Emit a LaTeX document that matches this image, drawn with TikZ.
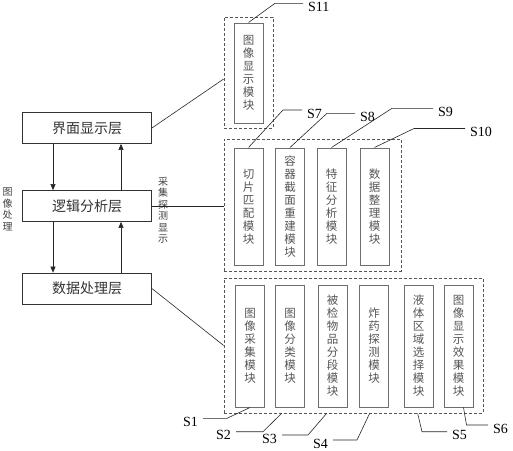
\documentclass[tikz,border=0pt]{standalone}
\usepackage{fontspec}
\setmainfont{Liberation Serif}
\newfontfamily\cjk{Noto Sans CJK SC}
\usetikzlibrary{arrows.meta}
\definecolor{lyrLine}{HTML}{333333}
\definecolor{modLine}{HTML}{6E6E6E}
\definecolor{modText}{HTML}{555555}
\definecolor{grpLine}{HTML}{555555}

\begin{document}
\begin{tikzpicture}[x=1pt, y=-1pt, font=\cjk,
  lyrbox/.style={rectangle, draw=lyrLine, line width=0.8pt, minimum width=129, minimum height=31,
    inner sep=0pt, text=black!80, font=\cjk\fontsize{14}{16}\selectfont},
  grpbox/.style={rectangle, draw=grpLine, line width=0.7pt, dash pattern=on 3pt off 2pt, inner sep=0pt},
  modbox/.style={rectangle, draw=modLine, line width=1pt, minimum width=29, inner sep=0pt,
    align=center, text=modText, font=\cjk\fontsize{11.5}{13}\selectfont},
  vtext/.style={align=center, inner sep=0pt, text=black!75, font=\cjk\fontsize{10}{11.5}\selectfont},
  slab/.style={inner xsep=5pt, inner ysep=0pt, font=\fontsize{14}{16}\selectfont},
  lead/.style={line width=0.6pt, color=black!85},
  lyrarr/.style={-{Triangle[length=6pt,width=5pt]}, line width=0.6pt, color=black!85}]
  \useasboundingbox (0,0) rectangle (513,450);
  \node[lyrbox] (ui) at (87,128) {界面显示层};
  \node[lyrbox] (logic) at (87,206) {逻辑分析层};
  \node[lyrbox] (data) at (87,288.5) {数据处理层};
  \draw[lyrarr] ([xshift=-34pt]ui.south) -- ([xshift=-34pt]logic.north);
  \draw[lyrarr] ([xshift=34pt]logic.north) -- ([xshift=34pt]ui.south);
  \draw[lyrarr] ([xshift=-34pt]logic.south) -- ([xshift=-34pt]data.north);
  \draw[lyrarr] ([xshift=34pt]data.north) -- ([xshift=34pt]logic.south);
  \node[vtext] (imgproc) at (7.5,209) {图\\像\\处\\理};
  \node[vtext] (acqdet) at (163,210) {采\\集\\探\\测\\显\\示};
  \node[grpbox, minimum width=49, minimum height=111] (g1) at (248.5,72.5) {};
  \node[grpbox, minimum width=177, minimum height=132] (g2) at (312.5,205) {};
  \node[grpbox, minimum width=259, minimum height=135] (g3) at (353.5,345.5) {};
  \draw[lead] (ui.east) -- ([yshift=-6.5pt]g1.west);
  \draw[lead] (logic.east) -- (logic.east -| g2.west);
  \draw[lead] (data.east) -- (g3.west);
  \node[modbox, minimum height=100] (m11) at (248.5,73) {图\\像\\显\\示\\模\\块};
  \node[modbox, minimum height=117] (m7) at (248.5,206.5) {切\\片\\匹\\配\\模\\块};
  \node[modbox, minimum height=117] (m8) at (290,206.5) {容\\器\\截\\面\\重\\建\\模\\块};
  \node[modbox, minimum height=117] (m9) at (331.5,206.5) {特\\征\\分\\析\\模\\块};
  \node[modbox, minimum height=117] (m10) at (374.5,206.5) {数\\据\\整\\理\\模\\块};
  \node[modbox, minimum height=122] (m1) at (250,346) {图\\像\\采\\集\\模\\块};
  \node[modbox, minimum height=122] (m2) at (290,346) {图\\像\\分\\类\\模\\块};
  \node[modbox, minimum height=122] (m3) at (332.5,346) {被\\检\\物\\品\\分\\段\\模\\块};
  \node[modbox, minimum height=122] (m4) at (374,346) {炸\\药\\探\\测\\模\\块};
  \node[modbox, minimum height=122] (m5) at (418.5,346) {液\\体\\区\\域\\选\\择\\模\\块};
  \node[modbox, minimum height=122] (m6) at (458.5,346) {图\\像\\显\\示\\效\\果\\模\\块};
  \node[slab, anchor=west] (s11) at (303,6.8) {S11};
  \node[slab, anchor=west] (s7) at (302,113.5) {S7};
  \node[slab, anchor=west] (s8) at (355,116.8) {S8};
  \node[slab, anchor=west] (s9) at (433,111.8) {S9};
  \node[slab, anchor=west] (s10) at (465,132) {S10};
  \node[slab, anchor=east] (s1) at (203,421.8) {S1};
  \node[slab, anchor=east] (s2) at (236,435.2) {S2};
  \node[slab, anchor=east] (s3) at (282,438.5) {S3};
  \node[slab, anchor=east] (s4) at (333,443.5) {S4};
  \node[slab, anchor=west] (s5) at (447,435.2) {S5};
  \node[slab, anchor=west] (s6) at (488,428.5) {S6};
  \draw[lead] ([yshift=3.5pt]s11.west) -- ++(-28,0) -- (m11.north);
  \draw[lead] ([yshift=3.5pt]s7.west) -- ++(-19,0) -- (m7.north);
  \draw[lead] ([yshift=3.5pt]s8.west) -- ++(-28,0) -- (m8.north);
  \draw[lead] ([yshift=3.5pt]s9.west) -- ++(-41,0) -- (m9.north);
  \draw[lead] ([yshift=3.5pt]s10.west) -- ++(-51,0) -- (m10.north);
  \draw[lead] ([yshift=3.5pt]s1.east) -- ++(24,0) -- (m1.south);
  \draw[lead] ([yshift=3.5pt]s2.east) -- ++(27,0) -- ([xshift=58pt]g3.south west);
  \draw[lead] ([yshift=3.5pt]s3.east) -- ++(26,0) -- ([xshift=103pt]g3.south west);
  \draw[lead] ([yshift=3.5pt]s4.east) -- ++(24,0) -- ([xshift=146pt]g3.south west);
  \draw[lead] ([yshift=3.5pt]s5.west) -- ++(-25,0) -- ([xshift=194pt]g3.south west);
  \draw[lead] ([yshift=3.5pt]s6.west) -- ++(-21.5,0) -- ([xshift=5pt]m6.south);
\end{tikzpicture}
\end{document}
